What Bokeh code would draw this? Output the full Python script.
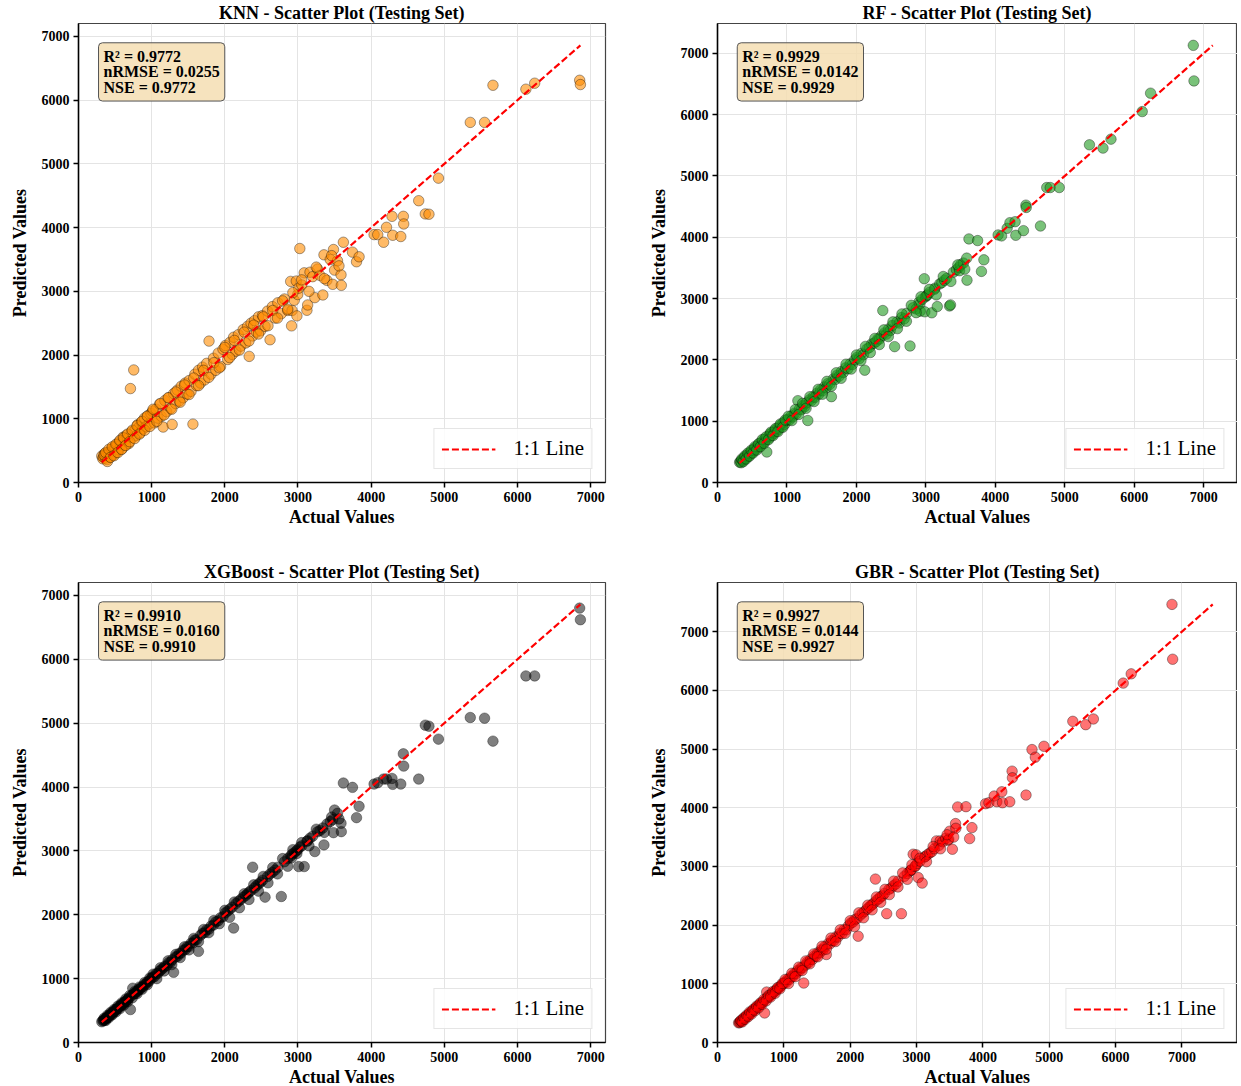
from bokeh.plotting import figure
from bokeh.layouts import gridplot
from bokeh.models import Range1d, SingleIntervalTicker, Label, Legend, LegendItem
from bokeh.embed import file_html
from bokeh.resources import INLINE

FONT = "Liberation Serif"

# ---- testing-set values (batch A) ----
actual_a = [
    318, 332, 341, 355, 368, 379, 392, 404, 418, 433, 447, 459, 472, 488, 501, 516, 530, 547, 561, 578, 592,
    607, 623, 640, 655, 671, 688, 710, 726, 741, 755, 772, 790, 806, 824, 843, 861, 880, 902, 921, 944, 968, 990,
    1012, 1036, 1060, 1083, 1108, 1131, 1157, 1180, 1206, 1233, 1258, 1280, 1300, 1327, 1352, 1378, 1404, 1431,
    1458, 1484, 1512, 1538, 1564, 1590, 1615, 1640, 1668, 1695, 1724, 1752, 1784, 1812, 1845, 1877, 1910, 1942, 1975,
    2008, 2040, 2071, 2102, 2120, 2152, 2185, 2218, 2251, 2285, 2310, 2333, 2358, 2380, 2405, 2432, 2460, 2488,
    2515, 2550, 2584, 2618, 2650, 2688, 2724, 2772, 2815, 2860, 2900, 2912, 2919, 2949, 2977, 2985, 2996,
    3010, 3025, 3052, 3085, 3122, 3132, 3164, 3200, 3230, 3268, 3300, 3340, 3355, 3395, 3440, 3475, 3485, 3500, 3540, 3588, 3592,
    3620, 3745, 3800, 3835, 4040, 4090, 4170, 4210, 4285, 4295, 4405, 4440, 4445, 4650, 4740, 4790, 4920,
    5355, 5550, 5665, 6115, 6235, 6850, 6860,
]
pred_knn_a = [
    415, 372, 398, 452, 381, 430, 360, 470, 455, 398, 520, 486, 431, 560, 548, 470, 602, 515, 640, 590, 525,
    710, 655, 588, 742, 690, 612, 1474, 798, 705, 1766, 820, 735, 905, 868, 780, 950, 842, 1010, 875, 1045, 920, 1085,
    1120, 935, 1150, 1010, 1230, 1040, 870, 1285, 1110, 1330, 1160, 911, 1395, 1240, 1450, 1280, 1510, 1330,
    1560, 1390, 1600, 1430, 916, 1700, 1520, 1760, 1560, 1810, 1610, 1870, 2219, 1700, 1950, 1760, 2030, 1820, 2090,
    2150, 1930, 2200, 2010, 2280, 2060, 2320, 2140, 2400, 2190, 2450, 1979, 2500, 2300, 2540, 2360, 2600, 2380,
    2620, 2450, 2690, 2240, 2760, 2580, 2820, 2650, 2880, 2700, 3156, 2458, 2700, 2860, 3161, 2615, 2950,
    3050, 3672, 3100, 3290, 2703, 2786, 3300, 3230, 2901, 3350, 3250, 2943, 3573, 3172, 3500, 3110, 3656, 3333, 3480, 3260, 3094,
    3770, 3615, 3464, 3542, 3890, 3890, 3770, 4005, 4177, 3880, 3860, 4177, 4057, 4422, 4215, 4210, 4776,
    5651, 5651, 6234, 6172, 6266, 6312, 6245,
]
pred_rf_a = [
    330, 345, 322, 370, 360, 395, 380, 425, 410, 445, 430, 478, 465, 500, 490, 540, 520, 565, 548, 600, 580,
    640, 610, 662, 645, 700, 675, 497, 745, 725, 790, 760, 815, 795, 850, 830, 885, 868, 930, 905, 975, 950, 1010,
    1030, 1020, 1085, 1070, 1130, 1115, 1335, 1200, 1190, 1255, 1240, 1300, 1011, 1350, 1335, 1400, 1390, 1455,
    1440, 1510, 1495, 1560, 1545, 1615, 1600, 1400, 1690, 1680, 1750, 1735, 1810, 1795, 1870, 1855, 1935, 1925, 2000,
    2040, 2020, 2105, 2085, 1832, 2180, 2200, 2260, 2270, 2300, 2345, 2340, 2390, 2805, 2440, 2420, 2500, 2480,
    2560, 2216, 2620, 2600, 2690, 2670, 2760, 2227, 2850, 2830, 2940, 2910, 2795, 2990, 3324, 2784, 3030,
    3050, 3060, 3100, 2768, 3150, 3170, 2870, 3240, 3260, 3300, 3330, 2880, 2897, 3430, 3470, 3508, 3454, 3550, 3580, 3660, 3300,
    3973, 3946, 3443, 3632, 4038, 4022, 4146, 4238, 4254, 4032, 4108, 4524, 4486, 4184, 4811, 4811, 4811,
    5508, 5454, 5600, 6050, 6350, 7130, 6550,
]
pred_xgb_a = [
    325, 340, 350, 348, 375, 372, 400, 398, 425, 428, 455, 450, 480, 482, 508, 510, 538, 540, 570, 572, 600,
    598, 630, 635, 662, 668, 695, 516, 735, 850, 762, 768, 798, 800, 832, 838, 868, 872, 910, 915, 950, 962, 998,
    1025, 1030, 1075, 1080, 1120, 1140, 1165, 1195, 1200, 1250, 1255, 1295, 1099, 1340, 1350, 1395, 1400, 1445,
    1455, 1500, 1505, 1555, 1560, 1605, 1610, 1427, 1680, 1710, 1720, 1765, 1775, 1825, 1840, 1890, 1905, 1955, 1970,
    2030, 2060, 2090, 2120, 1792, 2175, 2210, 2240, 2275, 2300, 2330, 2355, 2380, 2745, 2420, 2455, 2480, 2510,
    2540, 2276, 2600, 2640, 2665, 2700, 2745, 2286, 2830, 2880, 2920, 2890, 2950, 2970, 3000, 2960, 3020,
    2755, 3060, 3080, 2755, 3150, 3160, 3200, 3230, 2990, 3300, 3320, 3360, 3094, 3420, 3460, 3490, 3286, 3640, 3589, 3432, 3302,
    4063, 3995, 3521, 3698, 4047, 4068, 4125, 4125, 4135, 4042, 4047, 4521, 4328, 4125, 4969, 4953, 4750,
    5089, 5078, 4719, 5740, 5740, 6802, 6620,
]
pred_gbr_a = [
    335, 338, 352, 362, 372, 385, 398, 410, 425, 440, 452, 468, 478, 495, 506, 525, 535, 556, 566, 588, 596,
    618, 628, 650, 660, 682, 692, 503, 735, 860, 765, 780, 798, 815, 832, 852, 868, 890, 910, 930, 952, 975, 998,
    1030, 1025, 1080, 1075, 1125, 1120, 1175, 1170, 1225, 1220, 1275, 1270, 1013, 1320, 1370, 1365, 1420, 1415,
    1475, 1470, 1530, 1525, 1580, 1575, 1630, 1499, 1685, 1680, 1740, 1735, 1800, 1795, 1860, 1855, 1925, 1920, 1990,
    2035, 2050, 2095, 2110, 1811, 2170, 2205, 2235, 2270, 2305, 2330, 2350, 2380, 2784, 2430, 2450, 2485, 2500,
    2540, 2195, 2610, 2630, 2670, 2700, 2750, 2195, 2830, 2880, 2920, 2935, 2940, 3208, 3000, 3010, 3197,
    3050, 2810, 3090, 2716, 3160, 3170, 3200, 3230, 3250, 3300, 3435, 3360, 3435, 3420, 3480, 3446, 3463, 3600, 3293, 3730, 3650,
    4013, 4018, 3474, 3661, 4069, 4085, 4199, 4102, 4272, 4085, 4102, 4623, 4510, 4216, 4991, 4861, 5047,
    5472, 5415, 5512, 6123, 6281, 7464, 6530,
]

# ---- batch B (denser, wider part of the cloud) ----
actual_b = [
    350, 372, 395, 415, 438, 462, 485, 512, 538, 565, 590, 618, 645, 672, 700, 735, 768, 800, 835, 870, 905, 940, 975,
    1020, 1070, 1120, 1170, 1225, 1275, 1330, 1390, 1450, 1510, 1575, 1640, 1710, 1780, 1850, 1925,
    2000, 2065, 2130, 2200, 2265, 2330, 2395, 2460, 2525, 2590, 2655, 2720, 2790, 2860, 2930,
    3050, 3150, 3250, 3360, 3460, 3560,
]
pred_knn_b = [
    430, 470, 330, 520, 395, 560, 420, 600, 470, 660, 520, 700, 580, 760, 640, 820, 690, 890, 760, 960, 820, 1040, 880,
    1150, 960, 1240, 1060, 1330, 1150, 1420, 1260, 1530, 1380, 1640, 1520, 1760, 1650, 1880, 1800,
    2120, 1960, 2230, 2080, 2360, 2220, 2470, 2330, 2600, 2460, 2700, 2580, 2850, 2720, 2980,
    3180, 3000, 3380, 3200, 3560, 3400,
]
pred_rf_b = [
    385, 340, 435, 385, 480, 430, 525, 480, 585, 530, 630, 585, 700, 640, 745, 700, 820, 765, 880, 830, 955, 900, 1020,
    1080, 1010, 1190, 1110, 1290, 1210, 1400, 1320, 1520, 1440, 1650, 1570, 1790, 1700, 1930, 1850,
    2080, 1990, 2220, 2120, 2350, 2250, 2490, 2380, 2620, 2510, 2750, 2630, 2890, 2770, 3030,
    3150, 3060, 3360, 3280, 3550, 3480,
]
pred_xgb_b = [
    380, 345, 425, 390, 470, 435, 515, 480, 570, 530, 620, 585, 680, 640, 735, 700, 800, 765, 870, 835, 940, 905, 1010,
    1070, 1000, 1170, 1120, 1280, 1220, 1380, 1330, 1500, 1450, 1630, 1580, 1770, 1720, 1910, 1860,
    2070, 1960, 2200, 2110, 2330, 2240, 2470, 2370, 2600, 2500, 2740, 2640, 2880, 2760, 3020,
    3130, 3080, 3340, 3290, 3530, 3500,
]
pred_gbr_b = [
    375, 350, 420, 395, 465, 440, 520, 485, 565, 540, 620, 590, 675, 650, 735, 710, 800, 775, 870, 840, 935, 915, 1005,
    1075, 1005, 1180, 1120, 1285, 1225, 1390, 1340, 1510, 1460, 1640, 1590, 1780, 1720, 1920, 1860,
    2075, 1975, 2210, 2125, 2340, 2260, 2480, 2390, 2610, 2520, 2750, 2650, 2890, 2780, 3030,
    3140, 3080, 3340, 3300, 3540, 3500,
]

model_names = ["KNN", "RF", "XGBoost", "GBR"]
r2_values = ["0.9772", "0.9929", "0.9910", "0.9927"]
nrmse_values = ["0.0255", "0.0142", "0.0160", "0.0144"]
nse_values = ["0.9772", "0.9929", "0.9910", "0.9927"]
point_colors = ["#ff8c00", "#1f9a1f", "#000000", "#ff0000"]
point_alphas = [0.6, 0.6, 0.5, 0.55]

actual = actual_a + actual_b
predictions = [pred_knn_a + pred_knn_b, pred_rf_a + pred_rf_b,
               pred_xgb_a + pred_xgb_b, pred_gbr_a + pred_gbr_b]

for pr in predictions:
    assert len(pr) == len(actual), (len(pr), len(actual))


def make_panel(i, fw, fh, bl, br, bt, bb):
    pred = predictions[i]
    vmax = max(max(actual), max(pred))
    vmin = min(min(actual), min(pred))
    lim = vmax * 1.05
    p = figure(frame_width=fw, frame_height=fh,
               x_range=Range1d(0, lim), y_range=Range1d(0, lim),
               output_backend="svg", toolbar_location=None,
               min_border_left=bl, min_border_right=br,
               min_border_top=bt, min_border_bottom=bb,
               background_fill_color="white", border_fill_color="white")
    p.title.text = f"{model_names[i]} - Scatter Plot (Testing Set)"
    p.title.align = "center"
    p.title.text_font = FONT
    p.title.text_font_size = "18px"
    p.title.text_font_style = "bold"
    p.title.text_color = "black"
    p.title.standoff = 1

    p.outline_line_color = "#444444"
    p.outline_line_width = 1.2

    for ax, grid in ((p.xaxis[0], p.xgrid[0]), (p.yaxis[0], p.ygrid[0])):
        t = SingleIntervalTicker(interval=1000, num_minor_ticks=0)
        ax.ticker = t
        grid.ticker = t
        grid.grid_line_color = "#e4e4e4"
        grid.grid_line_width = 1
        ax.axis_line_color = "black"
        ax.axis_line_width = 1.5
        ax.major_tick_line_color = "black"
        ax.major_tick_line_width = 1.5
        ax.major_tick_in = 0
        ax.major_tick_out = 5
        ax.minor_tick_line_color = None
        ax.major_label_text_font = FONT
        ax.major_label_text_font_style = "bold"
        ax.major_label_text_font_size = "14px"
        ax.major_label_text_color = "black"
        ax.major_label_standoff = 4
        ax.axis_label_text_font = FONT
        ax.axis_label_text_font_style = "bold"
        ax.axis_label_text_font_size = "18px"
        ax.axis_label_text_color = "black"
    p.xaxis[0].axis_label = "Actual Values"
    p.yaxis[0].axis_label = "Predicted Values"
    p.xaxis[0].axis_label_standoff = 2
    p.yaxis[0].axis_label_standoff = 9

    p.scatter(actual, pred, size=10.5, marker="circle",
              fill_color=point_colors[i], fill_alpha=point_alphas[i],
              line_color="black", line_alpha=0.6, line_width=0.6)

    ln = p.line([vmin, vmax], [vmin, vmax], line_color="red",
                line_dash="7 3", line_width=2.2)

    legend = Legend(items=[LegendItem(label="1:1 Line", renderers=[ln])],
                    location="bottom_right")
    legend.label_text_font = FONT
    legend.label_text_font_size = "21px"
    legend.label_text_color = "black"
    legend.glyph_width = 54
    legend.glyph_height = 18
    legend.label_height = 18
    legend.label_standoff = 18
    legend.padding = 7
    legend.margin = 13
    legend.spacing = 0
    legend.border_line_color = "#cccccc"
    legend.border_line_width = 1
    legend.background_fill_alpha = 0.85
    p.add_layout(legend)

    stats = f"R\u00b2 = {r2_values[i]}\nnRMSE = {nrmse_values[i]}\nNSE = {nse_values[i]}"
    lab = Label(x=0.038 * lim, y=0.958 * lim, x_units="data", y_units="data",
                text=stats, anchor="top_left",
                text_font=FONT, text_font_size="16px", text_font_style="bold",
                text_color="black", text_line_height=0.92,
                background_fill_color="#f5deb3", background_fill_alpha=0.85,
                border_line_color="#555555", border_line_width=1,
                border_radius=4, padding=5)
    p.add_layout(lab)
    return p


p1 = make_panel(0, 527, 459, 78, 40, 22, 50)
p2 = make_panel(1, 520, 459, 72, 0, 22, 50)
p3 = make_panel(2, 527, 460, 78, 40, 50, 34)
p4 = make_panel(3, 520, 460, 72, 0, 50, 34)

grid = gridplot([[p1, p2], [p3, p4]], toolbar_location=None)
open("out.html", "w").write(file_html(grid, INLINE))
